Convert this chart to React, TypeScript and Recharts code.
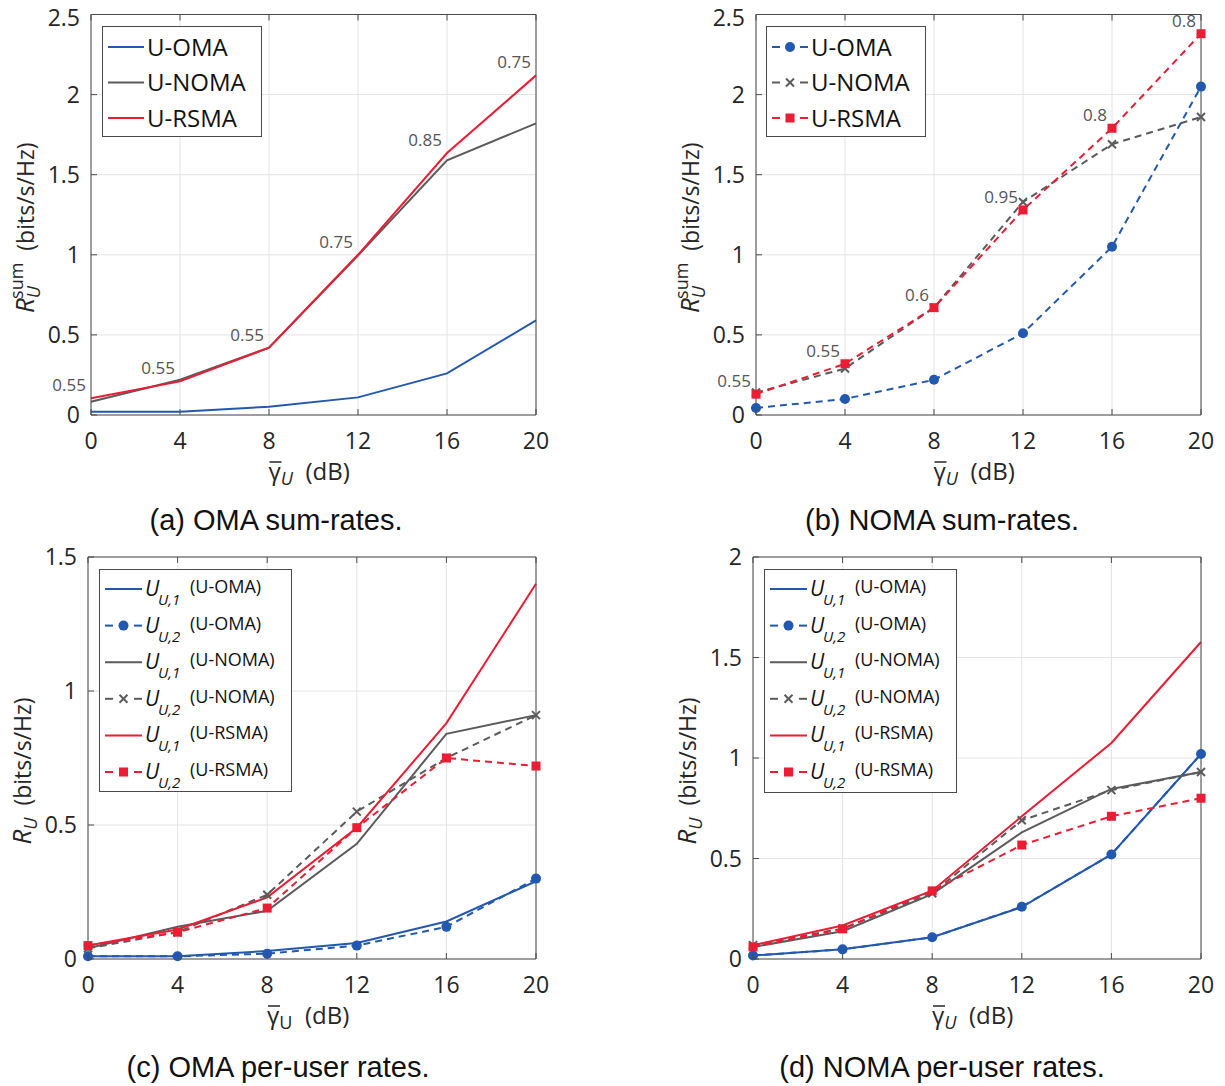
import React from 'react';
import { LineChart, Line, XAxis, YAxis, CartesianGrid, Legend, LabelList, Label } from 'recharts';

// ---------------- data ----------------
const GAMMA_DB = [0, 4, 8, 12, 16, 20];
const X_TICKS = [0, 4, 8, 12, 16, 20];

// (a) OMA sum-rates
const A_OMA = [0.021, 0.02, 0.052, 0.11, 0.26, 0.59];
const A_NOMA = [0.083, 0.22, 0.42, 0.996, 1.59, 1.82];
const A_RSMA = [0.104, 0.21, 0.42, 1.0, 1.635, 2.12];
const A_LABELS = ['0.55', '0.55', '0.55', '0.75', '0.85', '0.75'];
const A_Y_TICKS = [0, 0.5, 1, 1.5, 2, 2.5];

// (b) NOMA sum-rates
const B_OMA = [0.044, 0.1, 0.22, 0.51, 1.05, 2.05];
const B_NOMA = [0.14, 0.29, 0.67, 1.33, 1.69, 1.86];
const B_RSMA = [0.13, 0.32, 0.67, 1.28, 1.79, 2.38];
const B_LABELS = ['0.55', '0.55', '0.6', '0.95', '0.8', '0.8'];
const B_Y_TICKS = [0, 0.5, 1, 1.5, 2, 2.5];

// (c) OMA per-user rates
const C_OMA1 = [0.01, 0.01, 0.03, 0.06, 0.14, 0.29];
const C_OMA2 = [0.01, 0.01, 0.02, 0.05, 0.12, 0.3];
const C_NOMA1 = [0.04, 0.12, 0.18, 0.43, 0.84, 0.91];
const C_NOMA2 = [0.04, 0.1, 0.24, 0.55, 0.75, 0.91];
const C_RSMA1 = [0.05, 0.11, 0.23, 0.49, 0.88, 1.4];
const C_RSMA2 = [0.05, 0.1, 0.19, 0.49, 0.75, 0.72];
const C_Y_TICKS = [0, 0.5, 1, 1.5];

// (d) NOMA per-user rates
const D_OMA1 = [0.017, 0.048, 0.108, 0.258, 0.52, 1.02];
const D_OMA2 = [0.017, 0.048, 0.108, 0.26, 0.52, 1.02];
const D_NOMA1 = [0.06, 0.138, 0.323, 0.63, 0.846, 0.93];
const D_NOMA2 = [0.069, 0.151, 0.327, 0.69, 0.84, 0.93];
const D_RSMA1 = [0.069, 0.167, 0.34, 0.71, 1.075, 1.577];
const D_RSMA2 = [0.06, 0.15, 0.339, 0.567, 0.71, 0.8];
const D_Y_TICKS = [0, 0.5, 1, 1.5, 2];

const SCHEMES = ['U-OMA', 'U-NOMA', 'U-RSMA'];
const CAPTIONS = ['(a) OMA sum-rates.', '(b) NOMA sum-rates.', '(c) OMA per-user rates.', '(d) NOMA per-user rates.'];

// ---------------- styles ----------------
const AX_FONT = "'Open Sans', 'DejaVu Sans', sans-serif";
const CAP_FONT = "'Liberation Sans', Arial, sans-serif";
const AXIS = '#4a4a4a';
const TXT = '#262626';
const GRID = '#e4e4e4';
const BLUE = '#2358b0';
const GRAY = '#5b5b5b';
const RED = '#ec1c34';
const DASH = '7 5';

type Marker = 'none' | 'circle' | 'cross' | 'square';
type S = { key: string; values: number[]; color: string; dashed: boolean; marker: Marker; labels?: string[] };

function drawMarker(m: Marker, color: string, cx: number, cy: number, key?: any) {
  if (m === 'circle') return <circle key={key} cx={cx} cy={cy} r={5} fill={color} stroke="none" />;
  if (m === 'square') return <rect key={key} x={cx - 4.5} y={cy - 4.5} width={9} height={9} fill={color} />;
  if (m === 'cross')
    return (
      <g key={key}>
        <line x1={cx - 4} y1={cy - 4} x2={cx + 4} y2={cy + 4} stroke={color} strokeWidth={2} />
        <line x1={cx - 4} y1={cy + 4} x2={cx + 4} y2={cy - 4} stroke={color} strokeWidth={2} />
      </g>
    );
  return <g key={key} />;
}

function sample(it: { color: string; dashed: boolean; marker: Marker }, x0: number, x1: number, cy: number) {
  const mid = (x0 + x1) / 2;
  if (!it.dashed) return <line x1={x0} x2={x1} y1={cy} y2={cy} stroke={it.color} strokeWidth={2} />;
  return (
    <g>
      <line x1={x0} x2={x0 + 8} y1={cy} y2={cy} stroke={it.color} strokeWidth={2} />
      <line x1={x1 - 8} x2={x1} y1={cy} y2={cy} stroke={it.color} strokeWidth={2} />
      {drawMarker(it.marker, it.color, mid, cy)}
    </g>
  );
}

function SumLegend({ items, w, h }: { items: S[]; w: number; h: number }) {
  return (
    <svg width={w} height={h} style={{ display: 'block' }}>
      <rect x={0.5} y={0.5} width={w - 1} height={h - 1} fill="#fff" stroke={AXIS} />
      {items.map((it, i) => {
        const cy = 21 + i * 35.5;
        return (
          <g key={it.key}>
            {sample(it, 6, 42, cy)}
            <text x={45} y={cy + 8.5} fontFamily={AX_FONT} fontSize={24} fill="#111">
              {SCHEMES[i]}
            </text>
          </g>
        );
      })}
    </svg>
  );
}

function UserLegend({ items, w, h }: { items: S[]; w: number; h: number }) {
  return (
    <svg width={w} height={h} style={{ display: 'block' }}>
      <rect x={0.5} y={0.5} width={w - 1} height={h - 1} fill="#fff" stroke={AXIS} />
      {items.map((it, i) => {
        const cy = 20 + i * 36.6;
        const user = (i % 2) + 1;
        return (
          <g key={it.key}>
            {sample(it, 6, 43, cy)}
            <text x={46} y={cy + 7} fontFamily={AX_FONT} fontSize={21} fill="#111" fontStyle="italic">
              U
            </text>
            <text x={59} y={cy + 16} fontFamily={AX_FONT} fontSize={15} fill="#111" fontStyle="italic">
              {`U,${user}`}
            </text>
            <text x={91} y={cy + 4} fontFamily={AX_FONT} fontSize={18} fill="#111">
              {`(${SCHEMES[Math.floor(i / 2)]})`}
            </text>
          </g>
        );
      })}
    </svg>
  );
}

const Anno = (p: any) => (
  <text x={p.x - 5} y={p.y - 7} textAnchor="end" fontFamily={AX_FONT} fontSize={17} fill="#555">
    {p.value}
  </text>
);

const mkXTick = (isTop: boolean) => (p: any) => {
  const { x, y, payload } = p;
  return (
    <g>
      <line x1={x} x2={x} y1={y} y2={isTop ? y + 6 : y - 6} stroke={AXIS} />
      {!isTop && (
        <text x={x} y={y + 34} textAnchor="middle" fontFamily={AX_FONT} fontSize={23} fill={TXT}>
          {payload.value}
        </text>
      )}
    </g>
  );
};

// minBase keeps the label's font box inside the page (svg-local coordinate)
const mkYTick = (isRight: boolean, minBase: number) => (p: any) => {
  const { x, y, payload } = p;
  return (
    <g>
      <line x1={x} x2={isRight ? x - 6 : x + 6} y1={y} y2={y} stroke={AXIS} />
      {!isRight && (
        <text x={x - 11} y={Math.max(y + 8, minBase)} textAnchor="end" fontFamily={AX_FONT} fontSize={23} fill={TXT}>
          {payload.value}
        </text>
      )}
    </g>
  );
};

function XTitle({ viewBox, italic }: any) {
  const cx = viewBox.x + viewBox.width / 2;
  const base = viewBox.y + 65;
  const start = cx - 45;
  return (
    <g>
      <text x={start} y={base} fontFamily={AX_FONT} fontSize={24} fill={TXT}>
        <tspan>γ</tspan>
        <tspan fontSize={18} fontStyle={italic ? 'italic' : 'normal'} dy={5}>
          U
        </tspan>
        <tspan dy={-5}>{'\u00a0\u00a0(dB)'}</tspan>
      </text>
      <line x1={start + 1} x2={start + 13} y1={base - 18} y2={base - 18} stroke={TXT} strokeWidth={1.5} />
    </g>
  );
}

function YTitle({ viewBox, sup }: any) {
  const axisX = viewBox.x + viewBox.width;
  const cx = axisX - 66 + 9;
  const cy = viewBox.y + viewBox.height / 2 + 13;
  return (
    <text transform={`rotate(-90 ${cx} ${cy})`} x={cx} y={cy} textAnchor="middle" fontFamily={AX_FONT} fontSize={23} fill={TXT}>
      <tspan fontStyle="italic" fontSize={26}>R</tspan>
      <tspan fontStyle="italic" fontSize={18} dy={6}>
        U
      </tspan>
      {sup ? (
        <tspan fontSize={18} dx={-13} dy={-17}>
          {sup}
        </tspan>
      ) : null}
      <tspan dy={sup ? 11 : -6}>{'\u00a0\u00a0(bits/s/Hz)'}</tspan>
    </text>
  );
}

type PanelProps = {
  left: number;
  top: number;
  width: number;
  height: number;
  plot: [number, number, number, number]; // absolute x0, y0, x1, y1
  yMax: number;
  yTicks: number[];
  series: S[];
  sup?: string;
  xItalic: boolean;
  legend: 'sum' | 'user';
  legendBox: [number, number, number, number];
};

function Panel(pp: PanelProps) {
  const data = GAMMA_DB.map((g, i) => {
    const row: any = { g };
    pp.series.forEach((s) => {
      row[s.key] = s.values[i];
      if (s.labels) row[s.key + '_lbl'] = s.labels[i];
    });
    return row;
  });
  const [x0, y0, x1, y1] = pp.plot;
  const AW = 1; // axis thickness reserved
  const margin = {
    top: y0 - pp.top - AW,
    left: x0 - pp.left - AW,
    right: pp.left + pp.width - x1 - AW,
    bottom: pp.top + pp.height - y1 - AW,
  };
  const minBase = 25.5 - pp.top;
  const [lx, ly, lw, lh] = pp.legendBox;
  return (
    <div style={{ position: 'absolute', left: pp.left, top: pp.top, width: pp.width, height: pp.height }}>
      <LineChart width={pp.width} height={pp.height} data={data} margin={margin}>
        <CartesianGrid stroke={GRID} strokeWidth={1} />
        <XAxis
          dataKey="g"
          type="number"
          domain={[0, 20]}
          ticks={X_TICKS}
          height={AW}
          tickSize={0}
          tickMargin={0}
          tickLine={false}
          axisLine={{ stroke: AXIS }}
          tick={mkXTick(false)}
          interval={0}
        >
          <Label content={(p: any) => <XTitle {...p} italic={pp.xItalic} />} />
        </XAxis>
        <XAxis
          xAxisId="top"
          orientation="top"
          dataKey="g"
          type="number"
          domain={[0, 20]}
          ticks={X_TICKS}
          height={AW}
          tickSize={0}
          tickMargin={0}
          tickLine={false}
          axisLine={{ stroke: AXIS }}
          tick={mkXTick(true)}
          interval={0}
        />
        <YAxis
          type="number"
          domain={[0, pp.yMax]}
          ticks={pp.yTicks}
          width={AW}
          tickSize={0}
          tickMargin={0}
          tickLine={false}
          axisLine={{ stroke: AXIS }}
          tick={mkYTick(false, minBase)}
          interval={0}
        >
          <Label content={(p: any) => <YTitle {...p} sup={pp.sup} />} />
        </YAxis>
        <YAxis
          yAxisId="right"
          orientation="right"
          type="number"
          domain={[0, pp.yMax]}
          ticks={pp.yTicks}
          width={AW}
          tickSize={0}
          tickMargin={0}
          tickLine={false}
          axisLine={{ stroke: AXIS }}
          tick={mkYTick(true, minBase)}
          interval={0}
        />
        {pp.series.map((s) => (
          <Line
            key={s.key}
            dataKey={s.key}
            type="linear"
            stroke={s.color}
            strokeWidth={2}
            strokeDasharray={s.dashed ? DASH : undefined}
            isAnimationActive={false}
            activeDot={false}
            dot={(d: any) => drawMarker(s.marker, s.color, d.cx, d.cy, `${s.key}-${d.index}`)}
          >
            {s.labels ? <LabelList dataKey={s.key + '_lbl'} content={Anno} /> : null}
          </Line>
        ))}
        <Legend
          layout="vertical"
          align="center"
          verticalAlign="middle"
          wrapperStyle={{ left: lx - pp.left, top: ly - pp.top, width: lw, height: lh }}
          content={() =>
            pp.legend === 'sum' ? <SumLegend items={pp.series} w={lw} h={lh} /> : <UserLegend items={pp.series} w={lw} h={lh} />
          }
        />
      </LineChart>
    </div>
  );
}

const sumSeries = (oma: number[], noma: number[], rsma: number[], labels: string[], dashed: boolean): S[] => [
  { key: 'oma', values: oma, color: BLUE, dashed, marker: dashed ? 'circle' : 'none' },
  { key: 'noma', values: noma, color: GRAY, dashed, marker: dashed ? 'cross' : 'none' },
  { key: 'rsma', values: rsma, color: RED, dashed, marker: dashed ? 'square' : 'none', labels },
];

const userSeries = (o1: number[], o2: number[], n1: number[], n2: number[], r1: number[], r2: number[]): S[] => [
  { key: 'oma1', values: o1, color: BLUE, dashed: false, marker: 'none' },
  { key: 'oma2', values: o2, color: BLUE, dashed: true, marker: 'circle' },
  { key: 'noma1', values: n1, color: GRAY, dashed: false, marker: 'none' },
  { key: 'noma2', values: n2, color: GRAY, dashed: true, marker: 'cross' },
  { key: 'rsma1', values: r1, color: RED, dashed: false, marker: 'none' },
  { key: 'rsma2', values: r2, color: RED, dashed: true, marker: 'square' },
];

export default function App() {
  return (
    <div style={{ position: 'absolute', left: 0, top: 0, width: 1225, height: 1086, background: '#fff', overflow: 'hidden' }}>
      <Panel
        left={0}
        top={0}
        width={600}
        height={500}
        plot={[91, 14.5, 536, 415]}
        yMax={2.5}
        yTicks={A_Y_TICKS}
        series={sumSeries(A_OMA, A_NOMA, A_RSMA, A_LABELS, false)}
        sup="sum"
        xItalic={true}
        legend="sum"
        legendBox={[102, 26, 160, 111]}
      />
      <Panel
        left={640}
        top={0}
        width={585}
        height={500}
        plot={[756, 14.5, 1201, 415]}
        yMax={2.5}
        yTicks={B_Y_TICKS}
        series={sumSeries(B_OMA, B_NOMA, B_RSMA, B_LABELS, true)}
        sup="sum"
        xItalic={true}
        legend="sum"
        legendBox={[766, 26, 160, 111]}
      />
      <Panel
        left={0}
        top={540}
        width={600}
        height={500}
        plot={[88, 557, 536, 959]}
        yMax={1.5}
        yTicks={C_Y_TICKS}
        series={userSeries(C_OMA1, C_OMA2, C_NOMA1, C_NOMA2, C_RSMA1, C_RSMA2)}
        xItalic={false}
        legend="user"
        legendBox={[99, 569, 193, 223]}
      />
      <Panel
        left={640}
        top={540}
        width={585}
        height={500}
        plot={[753, 557, 1201, 959]}
        yMax={2}
        yTicks={D_Y_TICKS}
        series={userSeries(D_OMA1, D_OMA2, D_NOMA1, D_NOMA2, D_RSMA1, D_RSMA2)}
        xItalic={true}
        legend="user"
        legendBox={[764, 569, 193, 224]}
      />
      <svg width={1225} height={1086} style={{ position: 'absolute', left: 0, top: 0, pointerEvents: 'none' }}>
        <text x={276} y={530} textAnchor="middle" fontFamily={CAP_FONT} fontSize={29} fill="#111">{CAPTIONS[0]}</text>
        <text x={942} y={530} textAnchor="middle" fontFamily={CAP_FONT} fontSize={29} fill="#111">{CAPTIONS[1]}</text>
        <text x={278} y={1077} textAnchor="middle" fontFamily={CAP_FONT} fontSize={29} fill="#111">{CAPTIONS[2]}</text>
        <text x={942} y={1077} textAnchor="middle" fontFamily={CAP_FONT} fontSize={29} fill="#111">{CAPTIONS[3]}</text>
      </svg>
    </div>
  );
}
